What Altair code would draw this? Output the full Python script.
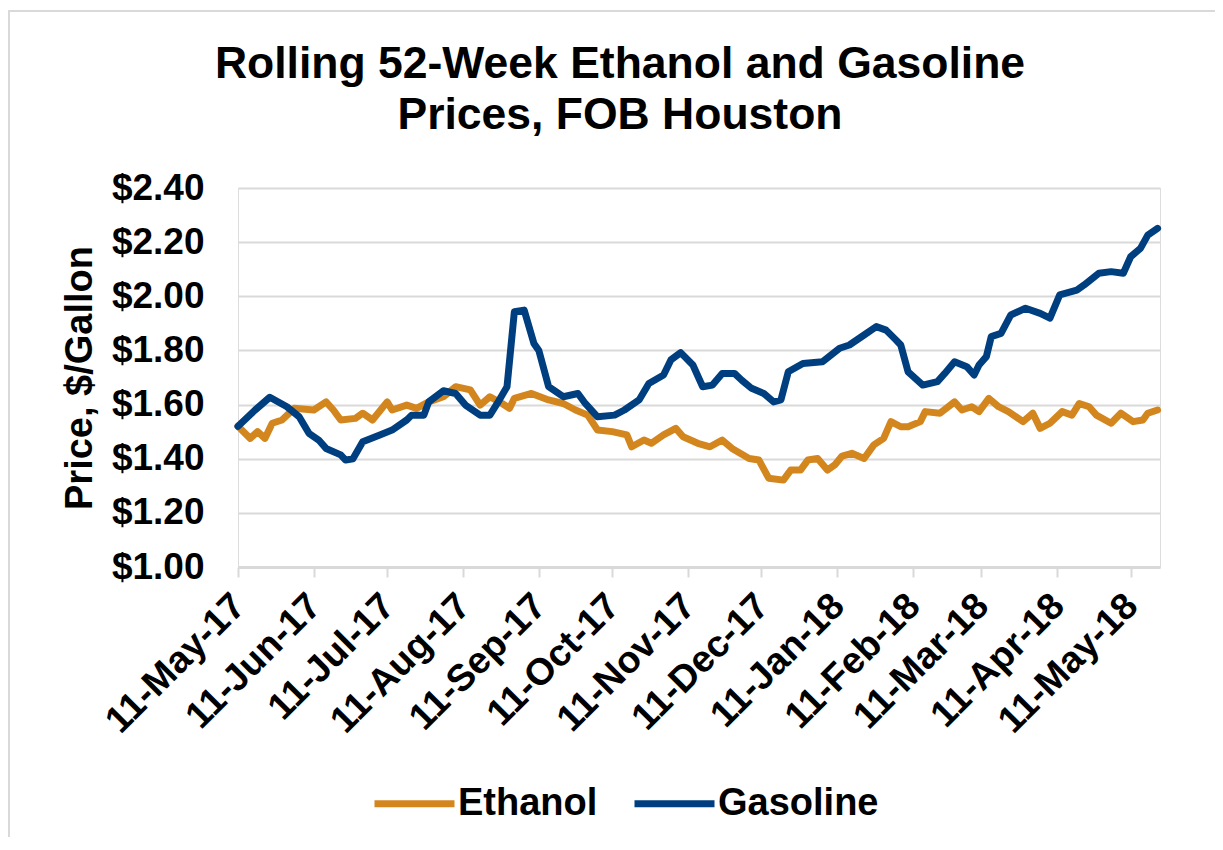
import altair as alt
import pandas as pd

# ---- data ----
gas_dates = [
    "2017-05-11", "2017-05-18", "2017-05-24", "2017-05-31", "2017-06-05", "2017-06-09",
    "2017-06-13", "2017-06-16", "2017-06-22", "2017-06-24", "2017-06-27", "2017-07-01",
    "2017-07-08", "2017-07-13", "2017-07-19", "2017-07-21", "2017-07-26", "2017-07-28",
    "2017-08-03", "2017-08-08", "2017-08-12", "2017-08-18", "2017-08-22", "2017-08-25",
    "2017-08-29", "2017-09-01", "2017-09-05", "2017-09-09", "2017-09-11", "2017-09-15",
    "2017-09-21", "2017-09-27", "2017-09-30", "2017-10-05", "2017-10-12", "2017-10-16",
    "2017-10-22", "2017-10-26", "2017-11-01", "2017-11-04", "2017-11-08", "2017-11-13",
    "2017-11-17", "2017-11-21", "2017-11-25", "2017-11-30", "2017-12-03", "2017-12-07",
    "2017-12-12", "2017-12-16", "2017-12-19", "2017-12-22", "2017-12-28", "2018-01-05",
    "2018-01-12", "2018-01-16", "2018-01-22", "2018-01-27", "2018-01-31", "2018-02-04",
    "2018-02-06", "2018-02-09", "2018-02-15", "2018-02-21", "2018-02-24", "2018-02-28",
    "2018-03-05", "2018-03-08", "2018-03-10", "2018-03-13", "2018-03-15", "2018-03-19",
    "2018-03-23", "2018-03-29", "2018-04-04", "2018-04-08", "2018-04-12", "2018-04-19",
    "2018-04-22", "2018-04-28", "2018-05-03", "2018-05-08", "2018-05-11", "2018-05-15",
    "2018-05-18", "2018-05-22",
]
gas_prices = [
    1.52, 1.58, 1.627, 1.592, 1.555, 1.494,
    1.469, 1.438, 1.414, 1.395, 1.40, 1.463,
    1.488, 1.506, 1.543, 1.561, 1.561, 1.61,
    1.651, 1.641, 1.598, 1.561, 1.561, 1.604,
    1.666, 1.943, 1.949, 1.826, 1.80, 1.666,
    1.629, 1.641, 1.604, 1.555, 1.561, 1.58,
    1.617, 1.678, 1.709, 1.765, 1.792, 1.746,
    1.666, 1.672, 1.715, 1.715, 1.69, 1.66,
    1.641, 1.61, 1.617, 1.721, 1.752, 1.758,
    1.808, 1.82, 1.857, 1.888, 1.875, 1.839,
    1.82, 1.721, 1.672, 1.685, 1.715, 1.758,
    1.74, 1.709, 1.746, 1.777, 1.851, 1.863,
    1.931, 1.956, 1.937, 1.919, 2.005, 2.023,
    2.042, 2.085, 2.091, 2.085, 2.146, 2.177,
    2.226, 2.251,
]

eth_dates = [
    "2017-05-11", "2017-05-16", "2017-05-19", "2017-05-22", "2017-05-25", "2017-05-29",
    "2017-06-03", "2017-06-11", "2017-06-16", "2017-06-19", "2017-06-22", "2017-06-28",
    "2017-07-01", "2017-07-05", "2017-07-11", "2017-07-13", "2017-07-19", "2017-07-23",
    "2017-07-28", "2017-08-03", "2017-08-08", "2017-08-14", "2017-08-18", "2017-08-22",
    "2017-08-27", "2017-08-30", "2017-09-01", "2017-09-08", "2017-09-15", "2017-09-21",
    "2017-09-26", "2017-10-01", "2017-10-05", "2017-10-11", "2017-10-17", "2017-10-19",
    "2017-10-24", "2017-10-27", "2017-11-01", "2017-11-06", "2017-11-09", "2017-11-15",
    "2017-11-20", "2017-11-25", "2017-11-29", "2017-12-06", "2017-12-10", "2017-12-14",
    "2017-12-20", "2017-12-23", "2017-12-27", "2017-12-30", "2018-01-03", "2018-01-07",
    "2018-01-10", "2018-01-13", "2018-01-17", "2018-01-22", "2018-01-26", "2018-01-30",
    "2018-02-02", "2018-02-06", "2018-02-09", "2018-02-14", "2018-02-16", "2018-02-22",
    "2018-02-28", "2018-03-03", "2018-03-07", "2018-03-10", "2018-03-14", "2018-03-18",
    "2018-03-22", "2018-03-28", "2018-04-01", "2018-04-04", "2018-04-08", "2018-04-13",
    "2018-04-17", "2018-04-20", "2018-04-24", "2018-04-27", "2018-05-03", "2018-05-07",
    "2018-05-12", "2018-05-16", "2018-05-18", "2018-05-22",
]
eth_prices = [
    1.52, 1.475, 1.50, 1.475, 1.531, 1.543,
    1.586, 1.58, 1.61, 1.58, 1.543, 1.549,
    1.568, 1.543, 1.61, 1.58, 1.598, 1.586,
    1.61, 1.629, 1.666, 1.654, 1.598, 1.629,
    1.604, 1.586, 1.623, 1.641, 1.617, 1.604,
    1.58, 1.561, 1.506, 1.50, 1.488, 1.444,
    1.469, 1.457, 1.488, 1.512, 1.481, 1.457,
    1.444, 1.469, 1.438, 1.401, 1.395, 1.328,
    1.321, 1.358, 1.358, 1.395, 1.401, 1.358,
    1.377, 1.41, 1.42, 1.401, 1.451, 1.475,
    1.537, 1.518, 1.518, 1.537, 1.574, 1.568,
    1.61, 1.58, 1.592, 1.574, 1.623, 1.592,
    1.574, 1.537, 1.568, 1.512, 1.531, 1.574,
    1.561, 1.604, 1.592, 1.561, 1.531, 1.568,
    1.537, 1.543, 1.568, 1.58,
]

series_names = ["Ethanol", "Gasoline"]
series_colors = ["#D4861E", "#003F7F"]

tick_dates = [
    "2017-05-11", "2017-06-11", "2017-07-11", "2017-08-11", "2017-09-11", "2017-10-11",
    "2017-11-11", "2017-12-11", "2018-01-11", "2018-02-11", "2018-03-11", "2018-04-11",
    "2018-05-11",
]
x_domain = ["2017-05-11", "2018-05-23"]
y_ticks = [1.0, 1.2, 1.4, 1.6, 1.8, 2.0, 2.2, 2.4]

title_lines = ["Rolling 52-Week Ethanol and Gasoline", "Prices, FOB Houston"]
y_title = "Price, $/Gallon"

# ---- build table ----
df = pd.concat([
    pd.DataFrame({"date": eth_dates, "price": eth_prices, "series": series_names[0]}),
    pd.DataFrame({"date": gas_dates, "price": gas_prices, "series": series_names[1]}),
], ignore_index=True)


def to_dt(s):
    y, m, d = (int(v) for v in s.split("-"))
    return alt.DateTime(year=y, month=m, date=d, utc=True)


FONT = "Liberation Sans"
W, H = 922, 379

lines = alt.Chart(df).mark_line(strokeWidth=7, strokeJoin="round", strokeCap="round").encode(
    x=alt.X(
        "date:T",
        scale=alt.Scale(type="utc", domain=[to_dt(d) for d in x_domain], nice=False),
        axis=alt.Axis(
            values=[to_dt(d) for d in tick_dates],
            format="%d-%b-%y",
            title=None,
            labelAngle=315,
            labelAlign="right",
            labelBaseline="middle",
            labelOffset=1,
            labelPadding=23,
            labelFontSize=37.5,
            labelFontWeight="bold",
            labelFont=FONT,
            labelColor="#000000",
            labelOverlap=False,
            labelFlush=False,
            labelLimit=500,
            tickSize=10,
            tickColor="#d9d9d9",
            tickWidth=2,
            domainColor="#d9d9d9",
            domainWidth=3,
            grid=False,
            zindex=1,
        ),
    ),
    y=alt.Y(
        "price:Q",
        scale=alt.Scale(domain=[1.0, 2.4], nice=False, zero=False),
        axis=alt.Axis(
            values=y_ticks,
            format="$.2f",
            title=y_title,
            titleFontSize=38,
            titleFont=FONT,
            titleFontWeight="bold",
            titleColor="#000000",
            titleAngle=270,
            titleAlign="center",
            titleBaseline="middle",
            titleX=-158,
            titleY=H / 2,
            labelFontSize=37,
            labelFont=FONT,
            labelFontWeight="bold",
            labelColor="#000000",
            labelPadding=34,
            ticks=False,
            domain=False,
            gridColor="#d9d9d9",
            gridWidth=2,
        ),
    ),
    color=alt.Color(
        "series:N",
        scale=alt.Scale(domain=series_names, range=series_colors),
        legend=alt.Legend(
            title=None,
            orient="none",
            legendX=133,
            legendY=572,
            direction="horizontal",
            symbolType="stroke",
            symbolSize=6400,
            symbolStrokeWidth=7,
            labelFontSize=38,
            labelFont=FONT,
            labelFontWeight="bold",
            labelColor="#000000",
            labelOffset=0,
            labelLimit=400,
            columnPadding=22,
        ),
    ),
)

frame = alt.Chart(alt.Data(values=[{"k": 1}])).mark_rect(
    fill="transparent", stroke="#d9d9d9", strokeWidth=2
).encode(
    x=alt.value(-229), x2=alt.value(W + 200),
    y=alt.value(-177), y2=alt.value(H + 400),
)

chart = alt.layer(frame, lines).properties(
    width=W,
    height=H,
    autosize=alt.AutoSizeParams(type="none"),
    padding={"left": 230, "top": 180, "right": 55, "bottom": 270},
    title=alt.TitleParams(
        text=title_lines,
        fontSize=44.5,
        font=FONT,
        fontWeight="bold",
        color="#000000",
        anchor="middle",
        dx=-79,
        offset=-128,
        lineHeight=51,
    ),
).configure_view(
    stroke="#a6a6a6", strokeWidth=2
).configure(background="white")

chart.save("out.html", embed_options={"renderer": "svg", "actions": False})
